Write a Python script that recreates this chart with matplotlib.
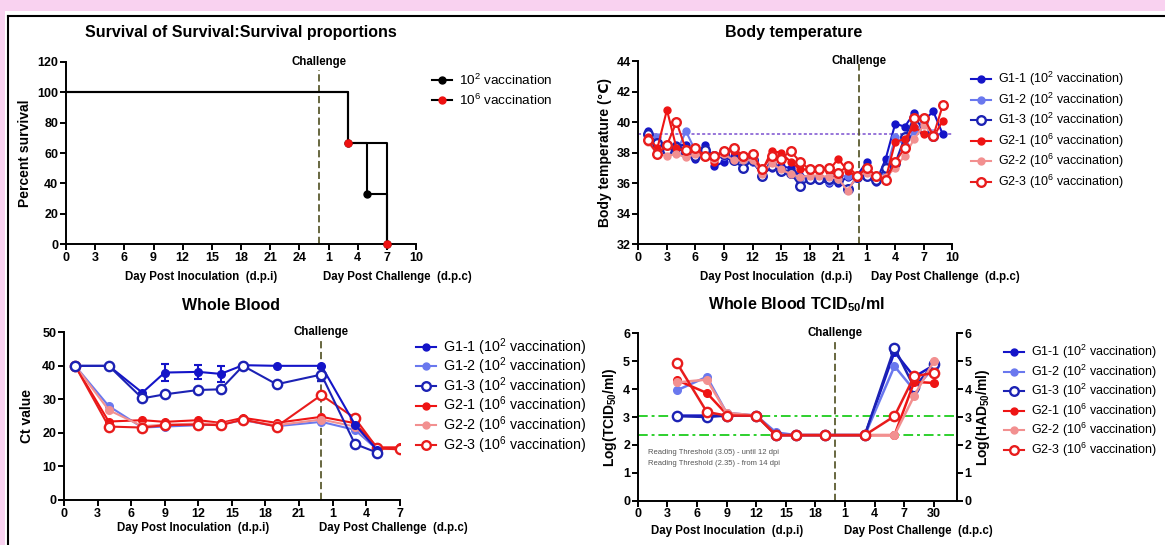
import numpy as np
import matplotlib
matplotlib.use('Agg')
import matplotlib.pyplot as plt
from matplotlib.lines import Line2D
from matplotlib.patches import Rectangle

plt.rcParams['font.family'] = ['Liberation Sans', 'DejaVu Sans']
plt.rcParams['mathtext.fontset'] = 'custom'
plt.rcParams['mathtext.rm'] = 'Liberation Sans'
plt.rcParams['mathtext.default'] = 'regular'

W, H = 1165, 545
nan = np.nan

# ---------------- data ----------------
groups = ['G1-1', 'G1-2', 'G1-3', 'G2-1', 'G2-2', 'G2-3']
group_labels = ['G1-1 (10$^2$ vaccination)', 'G1-2 (10$^2$ vaccination)', 'G1-3 (10$^2$ vaccination)',
                'G2-1 (10$^6$ vaccination)', 'G2-2 (10$^6$ vaccination)', 'G2-3 (10$^6$ vaccination)']

# survival (days post challenge of events)
surv_low_dpc = [3, 5, 7]
surv_low = [66.7, 33.3, 0]
surv_high_dpc = [3, 7]
surv_high = [66.7, 0]

# body temperature, dpi 1..22 then dpc 0..9
bt_dpi = [1, 2, 3, 4, 5, 6, 7, 8, 9, 10, 11, 12, 13, 14, 15, 16, 17, 18, 19, 20, 21, 22]
bt_dpc = [0, 1, 2, 3, 4, 5, 6, 7, 8, 9]
bt = {
    'G1-1': [39.4, 38.2, 38.1, 38.5, 38.5, 37.6, 38.5, 37.1, 37.4, 37.8, 37.5, 37.4, 36.6, 37.0, 37.1, 37.0,
             36.5, 36.4, 36.2, 36.0, 36.0, 36.4,
             36.5, 37.4, 36.1, 37.6, 39.9, 39.7, 40.6, 40.1, 40.7, 39.2],
    'G1-2': [38.8, 39.0, 38.2, 38.0, 39.4, 38.1, 38.0, 37.8, 37.8, 37.6, 37.4, 37.4, 36.6, 37.2, 36.8, 36.6,
             36.3, 36.4, 36.3, 36.1, 36.4, 36.5,
             36.5, 36.6, 36.4, 36.7, 39.0, 38.5, 39.4, 40.0, 39.3, nan],
    'G1-3': [39.2, 38.6, 38.2, 38.4, 38.0, 37.8, 38.2, 37.8, 37.9, 37.5, 37.0, 37.5, 36.5, 37.1, 36.8, 36.7,
             35.8, 36.3, 36.3, 36.3, 36.2, 35.6,
             36.4, 36.5, 36.2, 37.0, 37.3, 39.0, 40.3, 39.5, 39.1, nan],
    'G2-1': [39.0, 38.3, 40.8, 38.3, 38.1, 38.0, 37.8, 37.4, 38.1, 38.1, 37.7, 37.7, 36.8, 38.1, 38.0, 37.4,
             36.9, 36.9, 37.0, 36.8, 37.6, 36.8,
             36.4, 36.9, 36.4, 36.3, 38.7, 38.9, 39.7, 39.2, 39.0, 40.1],
    'G2-2': [38.7, 37.9, 37.8, 37.9, 37.7, 37.9, 37.7, 37.6, 37.9, 37.5, 37.5, 37.5, 36.6, 37.3, 36.9, 36.6,
             36.4, 36.5, 36.5, 36.4, 36.3, 35.5,
             36.5, 36.7, 36.5, 36.4, 37.0, 37.8, 38.9, 39.8, 39.2, nan],
    'G2-3': [38.8, 37.9, 38.5, 40.0, 38.2, 38.3, 37.8, 37.8, 38.1, 38.3, 37.8, 37.9, 36.9, 37.8, 37.6, 38.1,
             37.4, 36.9, 36.9, 37.0, 36.7, 37.1,
             36.5, 37.0, 36.5, 36.2, 37.4, 38.3, 40.3, 40.3, 39.1, 41.1],
}
bt_ref = 39.2

# whole blood Ct
wb_dpi = [1, 4, 7, 9, 12, 14, 16, 19]
wb_dpc = [0, 3, 5, 7]
wb = {
    'G1-1': [40, 40, 32.0, 38.0, 38.2, 37.6, 40.2, 40.0, 40.0, 22.5, 14.8, nan],
    'G1-2': [40, 28.0, 21.6, 21.9, 22.3, 22.5, 23.8, 22.0, 23.3, 20.9, 15.0, nan],
    'G1-3': [40, 40, 30.3, 31.5, 32.8, 33.0, 40.0, 34.5, 37.4, 16.7, 14.1, nan],
    'G2-1': [40, 23.4, 23.8, 23.3, 23.8, 23.0, 24.5, 23.0, 24.8, 22.9, 15.7, 15.7],
    'G2-2': [40, 26.8, 22.0, 22.5, 22.8, 22.7, 23.8, 22.3, 24.0, 21.9, 15.2, 15.2],
    'G2-3': [40, 21.9, 21.6, 22.3, 22.5, 22.3, 24.0, 21.9, 31.3, 24.4, 15.4, 15.1],
}
wb_err = {
    'G1-1': [0, 0, 0, 2.5, 2.0, 2.5, 0, 0, 0, 0, 0, 0],
    'G1-3': [0, 0, 0, 0, 0, 0, 0, 0, 2.0, 0, 0, 0],
}

# whole blood TCID50
tc_dpi = [4, 7, 9, 12, 14, 16, 19]
tc_dpc = [3, 6, 8, 30]
tc = {
    'G1-1': [3.05, 3.05, 3.05, 3.05, 2.35, 2.35, 2.35, 2.35, 5.33, 4.44, 4.86],
    'G1-2': [3.96, 4.44, 3.15, 3.05, 2.45, 2.35, 2.35, 2.35, 4.82, 3.96, 4.80],
    'G1-3': [3.03, 3.00, 3.05, 3.05, 2.35, 2.35, 2.35, 2.35, 5.48, 4.06, 4.90],
    'G2-1': [4.32, 3.86, 3.10, 3.05, 2.35, 2.35, 2.35, 2.35, 2.35, 4.26, 4.22],
    'G2-2': [4.24, 4.34, 3.15, 3.05, 2.35, 2.35, 2.35, 2.35, 2.35, 3.76, 5.01],
    'G2-3': [4.92, 3.18, 3.05, 3.05, 2.35, 2.35, 2.35, 2.35, 3.03, 4.46, 4.58],
}
thresholds = [3.05, 2.35]

# ---------------- styles ----------------
col = {'G1-1': '#1414C8', 'G1-2': '#6A78EE', 'G1-3': '#1C22B4',
       'G2-1': '#EE1414', 'G2-2': '#F29090', 'G2-3': '#E81C1C'}
openm = {'G1-1': False, 'G1-2': False, 'G1-3': True, 'G2-1': False, 'G2-2': False, 'G2-3': True}


def mstyle(g, ms=5):
    if openm[g]:
        return dict(color=col[g], marker='o', ms=ms + 1.2, mfc='white', mec=col[g], mew=1.7)
    return dict(color=col[g], marker='o', ms=ms, mfc=col[g], mec=col[g])


def fx(x):
    return x / W


def fy(y):
    return 1 - y / H


def prism(ax, xlim, ylim, xticks, xlabels, yticks):
    ax.set_xlim(xlim)
    ax.set_ylim(ylim)
    for s in ['top', 'right']:
        ax.spines[s].set_visible(False)
    for s in ['left', 'bottom']:
        ax.spines[s].set_linewidth(1.4)
    ax.set_xticks(xticks)
    ax.set_xticklabels(xlabels)
    ax.set_yticks(yticks)
    ax.tick_params(direction='out', length=4, width=1.4, labelsize=9, pad=1.5)
    for t in ax.get_xticklabels() + ax.get_yticklabels():
        t.set_fontweight('bold')


def legend(fig, x0, ys, labels, styles, size=9):
    for y, lab, st in zip(ys, labels, styles):
        ln = Line2D([fx(x0), fx(x0 + 10), fx(x0 + 20)], [fy(y)] * 3, transform=fig.transFigure,
                    lw=1.5, markevery=[1], **st)
        fig.lines.append(ln)
        fig.text(fx(x0 + 27), fy(y), lab, fontsize=size, va='center', ha='left')


def challenge(ax, x, ytop, ylab):
    ax.plot([x, x], [ax.get_ylim()[0], ytop], ls=(0, (4, 2)), color='#5C5C30', lw=1.3, zorder=1)
    ax.text(x, ylab, 'Challenge', ha='center', va='center', fontsize=8.3, fontweight='bold',
            clip_on=False)


def xlabels(x1, x2, y):
    fig.text(fx(x1), fy(y), 'Day Post Inoculation  (d.p.i)', ha='center', va='center', fontsize=8.3,
             fontweight='bold')
    fig.text(fx(x2), fy(y), 'Day Post Challenge  (d.p.c)', ha='center', va='center', fontsize=8.3,
             fontweight='bold')


fig = plt.figure(figsize=(W / 100, H / 100), dpi=100)
fig.patch.set_facecolor('white')
fig.patches.append(Rectangle((0, fy(11)), 1, 11 / H, transform=fig.transFigure,
                             facecolor='#F9D2F0', edgecolor='none', zorder=0))
fig.patches.append(Rectangle((0, 0), 5 / W, 1, transform=fig.transFigure,
                             facecolor='#F9D2F0', edgecolor='none', zorder=0))
fig.lines.append(Line2D([fx(7.5), 1], [fy(16), fy(16)], transform=fig.transFigure, color='black', lw=1.5))
fig.lines.append(Line2D([fx(7.5), fx(7.5)], [0, fy(16)], transform=fig.transFigure, color='black', lw=1.5))

# ---------------- survival ----------------
ax1 = fig.add_axes([fx(66), fy(244.3), (416 - 66) / W, (244.3 - 61.7) / H])
off1 = 26
prism(ax1, (0, 36), (0, 120), [0, 3, 6, 9, 12, 15, 18, 21, 24, 27, 30, 33, 36],
      ['0', '3', '6', '9', '12', '15', '18', '21', '24', '1', '4', '7', '10'], [0, 20, 40, 60, 80, 100, 120])
challenge(ax1, off1, 114.5, 120)
xl = [0] + [off1 + d for d in surv_low_dpc]
xh = [0] + [off1 + d for d in surv_high_dpc]
ax1.plot(xh, [100] + surv_high, drawstyle='steps-post', color='black', lw=1.5, clip_on=False)
ax1.plot(xl, [100] + surv_low, drawstyle='steps-post', color='black', lw=1.5, clip_on=False)
ax1.plot(xl[1:], surv_low, 'o', color='black', ms=5, clip_on=False, zorder=4)
ax1.plot(xh[1:], surv_high, 'o', color='#EE1010', ms=5, clip_on=False, zorder=5)
ax1.set_ylabel('Percent survival', fontsize=10, fontweight='bold', labelpad=4)
fig.text(fx(241), fy(33), 'Survival of Survival:Survival proportions', ha='center', va='center',
         fontsize=11.5, fontweight='bold')
xlabels(201, 397, 277)
legend(fig, 432, [80, 100], ['10$^2$ vaccination', '10$^6$ vaccination'],
       [dict(color='black', marker='o', ms=5), dict(color='black', marker='o', ms=5, mfc='#EE1010', mec='#EE1010')],
       size=9.7)

# ---------------- body temperature ----------------
ax2 = fig.add_axes([fx(638.4), fy(244.3), (952.3 - 638.4) / W, (244.3 - 61) / H])
off2 = 23
prism(ax2, (0, 33), (32, 44), [0, 3, 6, 9, 12, 15, 18, 21, 24, 27, 30, 33],
      ['0', '3', '6', '9', '12', '15', '18', '21', '1', '4', '7', '10'], [32, 34, 36, 38, 40, 42, 44])
ax2.axhline(bt_ref, color='#7A4FD0', ls=(0, (2, 1.5)), lw=1.1, zorder=1)
challenge(ax2, 23.2, 43.8, 44)
bx = bt_dpi + [off2 + d for d in bt_dpc]
for g in groups:
    ax2.plot(bx, bt[g], lw=1.5, **mstyle(g, 5))
ax2.set_ylabel('Body temperature (℃)', fontsize=10, fontweight='bold', labelpad=3)
fig.text(fx(794), fy(33), 'Body temperature', ha='center', va='center', fontsize=11.5, fontweight='bold')
xlabels(776, 945, 277)
legend(fig, 971, [79.3, 99.8, 120.3, 140.8, 161.3, 181.8], group_labels, [mstyle(g, 5) for g in groups])

# ---------------- whole blood Ct ----------------
ax3 = fig.add_axes([fx(64), fy(500), (399.7 - 64) / W, (500 - 332.3) / H])
off3 = 23
prism(ax3, (0, 30), (0, 50), [0, 3, 6, 9, 12, 15, 18, 21, 24, 27, 30],
      ['0', '3', '6', '9', '12', '15', '18', '21', '1', '4', '7'], [0, 10, 20, 30, 40, 50])
challenge(ax3, off3, 47.7, 50)
wx = wb_dpi + [off3 + d for d in wb_dpc]
for g in groups:
    if g in wb_err:
        ax3.errorbar(wx, wb[g], yerr=wb_err[g], lw=1.5, elinewidth=1.5, capsize=3, capthick=1.5,
                     **mstyle(g, 5.5))
    else:
        ax3.plot(wx, wb[g], lw=1.5, **mstyle(g, 5.5))
ax3.set_ylabel('Ct value', fontsize=10, fontweight='bold', labelpad=6)
fig.text(fx(231), fy(305), 'Whole Blood', ha='center', va='center', fontsize=11.5, fontweight='bold')
xlabels(193, 393, 528)
legend(fig, 416, [346.7, 366.3, 385.9, 405.5, 425.1, 444.7], group_labels, [mstyle(g, 5) for g in groups],
       size=10.3)

# ---------------- whole blood TCID50 ----------------
ax4 = fig.add_axes([fx(637.7), fy(500.7), (956.7 - 637.7) / W, (500.7 - 333.3) / H])
off4 = 20
prism(ax4, (0, 32.3), (0, 6), [0, 3, 6, 9, 12, 15, 18, 21, 24, 27, 30],
      ['0', '3', '6', '9', '12', '15', '18', '1', '4', '7', '30'], [0, 1, 2, 3, 4, 5, 6])
for t in thresholds:
    ax4.axhline(t, color='#2ED02E', ls=(0, (5, 2, 1.5, 2)), lw=1.4, zorder=1)
challenge(ax4, off4, 5.7, 6)
tx = tc_dpi + [off4 + d if d < 10 else d for d in tc_dpc]
for g in groups:
    ax4.plot(tx, tc[g], lw=1.8, **mstyle(g, 5.5))
ax4.text(1.0, 1.68, 'Reading Threshold (3.05) - until 12 dpi', fontsize=5.5, color='#555555')
ax4.text(1.0, 1.28, 'Reading Threshold (2.35) - from 14 dpi', fontsize=5.5, color='#555555')
ax4.set_ylabel('Log(TCID$_{50}$/ml)', fontsize=10, fontweight='bold', labelpad=3)
ax4r = ax4.twinx()
ax4r.set_ylim(0, 6)
ax4r.set_yticks([0, 1, 2, 3, 4, 5, 6])
for s in ['top', 'left', 'bottom']:
    ax4r.spines[s].set_visible(False)
ax4r.spines['right'].set_linewidth(1.4)
ax4r.tick_params(direction='out', length=4, width=1.4, labelsize=9, pad=1.5)
for t in ax4r.get_yticklabels():
    t.set_fontweight('bold')
ax4r.set_ylabel('Log(HAD$_{50}$/ml)', fontsize=10, fontweight='bold', labelpad=2)
fig.text(fx(796), fy(305), 'Whole Blood TCID$_{50}$/ml', ha='center', va='center', fontsize=11.5,
         fontweight='bold')
xlabels(727, 918, 531)
legend(fig, 1004, [352, 371.5, 391, 410.5, 430, 449.5], group_labels, [mstyle(g, 5) for g in groups])

fig.savefig('out.png', dpi=100)
